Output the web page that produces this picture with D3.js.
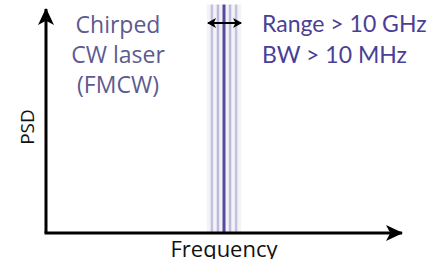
<!DOCTYPE html>
<html>
<head>
<meta charset="utf-8">
<script src="https://cdn.jsdelivr.net/npm/d3@7"></script>
<style>
  html, body { margin: 0; padding: 0; background: #fff; }
  svg { display: block; }
</style>
</head>
<body>
<svg id="chart" width="446" height="259"></svg>
<script>
// spectral lines of the chirped laser (frequency in arbitrary units, relative intensity)
const lineFreqs = [46.6, 48.3, 50, 51.7, 53.4]
const lineLevels = [0.2, 0.25, 1, 0.25, 0.2]
const bandExtent = [45.2, 54.8]
const rangeArrow = [45.5, 54.8]
const leftLabel = ['Chirped', 'CW laser', '(FMCW)']
const rightLabel = ['Range > 10 GHz', 'BW > 10 MHz']

const width = 446, height = 259
const svg = d3.select('#chart')

const x = d3.scaleLinear().domain([0, 100]).range([46, 402])
const y = d3.scaleLinear().domain([0, 1]).range([233, 9])
const shade = d3.scaleLinear().domain([0, 1]).range(['#e2e0ef', '#534c9c'])

const defs = svg.append('defs')
const mk = (id, w, h) => {
  defs.append('marker').attr('id', id)
    .attr('viewBox', `0 -${h} ${w} ${2*h}`).attr('refX', w - 1).attr('refY', 0)
    .attr('markerUnits', 'userSpaceOnUse')
    .attr('markerWidth', w).attr('markerHeight', 2*h).attr('orient', 'auto-start-reverse')
    .append('path').attr('d', `M0,-${h}L${w},0L0,${h}L${w*0.25},0Z`).attr('fill', '#000')
}
mk('axis-head', 17, 8)
mk('small-head', 9, 5)

// pale band behind the lines
svg.append('rect')
  .attr('x', x(bandExtent[0])).attr('width', x(bandExtent[1]) - x(bandExtent[0]))
  .attr('y', y(1.02)).attr('height', y(0) - y(1.02))
  .attr('fill', '#f3f2f7')

svg.selectAll('line.spec').data(lineFreqs).join('line')
  .attr('class', 'spec')
  .attr('x1', d => x(d)).attr('x2', d => x(d))
  .attr('y1', y(0)).attr('y2', y(1.02))
  .attr('stroke', (d, i) => shade(lineLevels[i]))
  .attr('stroke-width', (d, i) => lineLevels[i] > 0.5 ? 3 : 2.5)

// axes
svg.append('path')
  .attr('d', `M${x(0)},${y(0)}V${y(1)}`)
  .attr('stroke', '#000').attr('stroke-width', 3).attr('fill', 'none')
  .attr('marker-end', 'url(#axis-head)')
svg.append('path')
  .attr('d', `M${x(0) - 1.5},${y(0)}H${x(100)}`)
  .attr('stroke', '#000').attr('stroke-width', 3).attr('fill', 'none')
  .attr('marker-end', 'url(#axis-head)')

// range arrow
svg.append('line')
  .attr('x1', x(rangeArrow[0])).attr('x2', x(rangeArrow[1]))
  .attr('y1', 23).attr('y2', 23)
  .attr('stroke', '#000').attr('stroke-width', 2)
  .attr('marker-start', 'url(#small-head)').attr('marker-end', 'url(#small-head)')

svg.append('text')
  .attr('transform', `translate(34,${(y(0) + y(1)) / 2 + 6}) rotate(-90)`)
  .attr('text-anchor', 'middle')
  .attr('font-family', 'Open Sans').attr('font-size', 19).attr('fill', '#111')
  .text('PSD')

svg.append('text')
  .attr('x', x(50)).attr('y', 257)
  .attr('text-anchor', 'middle')
  .attr('font-family', 'Open Sans').attr('font-size', 22).attr('fill', '#111')
  .text('Frequency')

svg.append('g').selectAll('text').data(leftLabel).join('text')
  .attr('x', 118).attr('y', (d, i) => 33 + i * 30)
  .attr('text-anchor', 'middle')
  .attr('font-family', 'Open Sans').attr('font-size', 23).attr('fill', '#5d5a90')
  .text(d => d)

svg.append('g').selectAll('text').data(rightLabel).join('text')
  .attr('x', 262).attr('y', (d, i) => 32 + i * 31)
  .attr('font-family', 'Lato').attr('font-size', 23).attr('fill', '#4a3f96')
  .text(d => d)
</script>
</body>
</html>
